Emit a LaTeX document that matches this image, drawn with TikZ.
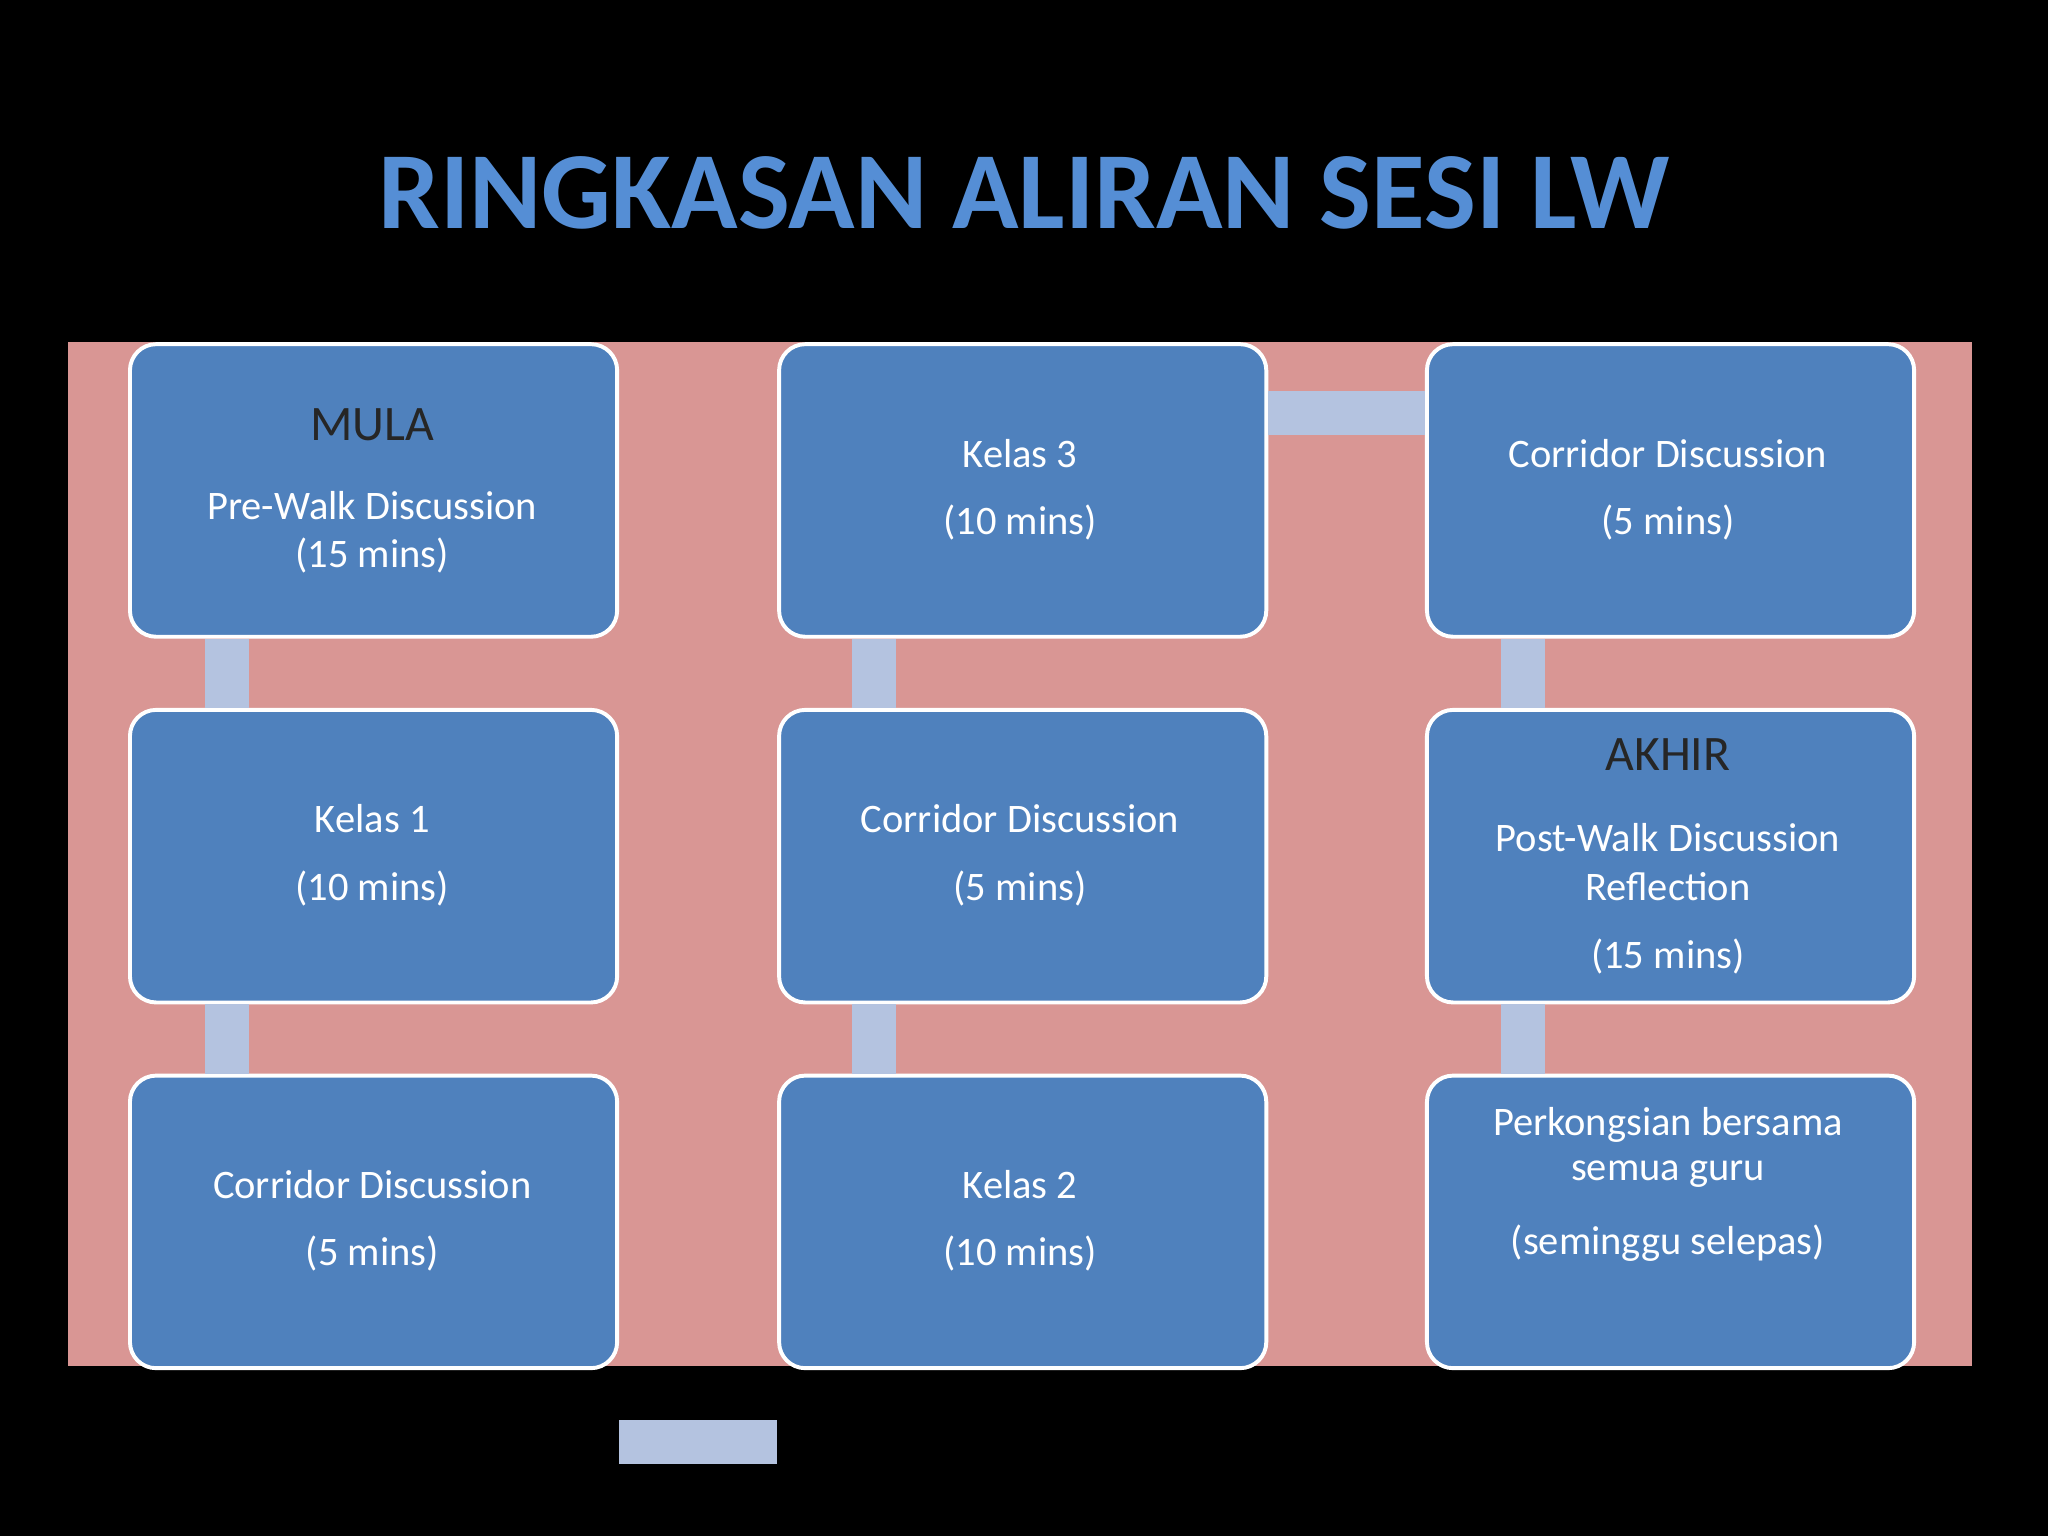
\documentclass[tikz,border=0pt]{standalone}
\usepackage{fontspec}
\setmainfont{Carlito}
\begin{document}
\begin{tikzpicture}[x=1pt,y=-1pt,
  box/.style={draw=white,line width=3pt,fill=boxblue,rounded corners=20pt,minimum width=373pt,minimum height=224pt,anchor=north west,inner sep=0pt},
  txt/.style={text=white,font=\fontsize{31}{36}\selectfont,align=center},
  hd/.style={text=black!85,font=\fontsize{38}{44}\selectfont},
  bar/.style={draw=barblue,line width=34pt}]
\definecolor{boxblue}{HTML}{4F81BD}
\definecolor{barblue}{HTML}{B4C3E0}
\definecolor{pinkbg}{HTML}{D99694}
\definecolor{titleblue}{HTML}{558ED5}
\fill[black] (0,0) rectangle (1568,1176);
\useasboundingbox (0,0) rectangle (1568,1176);
\node[text=titleblue,font=\fontsize{84}{90}\selectfont\bfseries] (title) at (784,148) {RINGKASAN ALIRAN SESI LW};
\fill[pinkbg] (52,262) rectangle (1510,1046);
\node[box] (b11) at (98,262) {};
\node[box] (b21) at (98,542) {};
\node[box] (b31) at (98,822) {};
\node[box] (b12) at (595,262) {};
\node[box] (b22) at (595,542) {};
\node[box] (b32) at (595,822) {};
\node[box] (b13) at (1091,262) {};
\node[box] (b23) at (1091,542) {};
\node[box] (b33) at (1091,822) {};
\draw[bar] ([xshift=76pt]b11.south west) -- ([xshift=76pt]b21.north west);
\draw[bar] ([xshift=76pt]b21.south west) -- ([xshift=76pt]b31.north west);
\draw[bar] ([yshift=-55pt]b31.south east) -- ([yshift=-55pt]b32.south west);
\draw[bar] ([xshift=74pt]b32.north west) -- ([xshift=74pt]b22.south west);
\draw[bar] ([xshift=74pt]b22.north west) -- ([xshift=74pt]b12.south west);
\draw[bar] ([yshift=-54pt]b12.north east) -- ([yshift=-54pt]b13.north west);
\draw[bar] ([xshift=75pt]b13.south west) -- ([xshift=75pt]b23.north west);
\draw[bar] ([xshift=75pt]b23.south west) -- ([xshift=75pt]b33.north west);
\node[hd] (t11a) at (285,325) {MULA};
\node[txt] (t11b) at (285,387) {Pre-Walk Discussion};
\node[txt] (t11c) at (285,425) {(15 mins)};
\node[txt] (t21a) at (285,627) {Kelas 1};
\node[txt] (t21b) at (285,680) {(10 mins)};
\node[txt] (t31a) at (285,907) {Corridor Discussion};
\node[txt] (t31b) at (285,960) {(5 mins)};
\node[txt] (t12a) at (781,347) {Kelas 3};
\node[txt] (t12b) at (781,400) {(10 mins)};
\node[txt] (t22a) at (781,627) {Corridor Discussion};
\node[txt] (t22b) at (781,680) {(5 mins)};
\node[txt] (t32a) at (781,907) {Kelas 2};
\node[txt] (t32b) at (781,960) {(10 mins)};
\node[txt] (t13a) at (1277,347) {Corridor Discussion};
\node[txt] (t13b) at (1277,400) {(5 mins)};
\node[hd] (t23a) at (1277,578) {AKHIR};
\node[txt] (t23b) at (1277,641) {Post-Walk Discussion};
\node[txt] (t23c) at (1277,679) {Reflection};
\node[txt] (t23d) at (1277,732) {(15 mins)};
\node[txt] (t33a) at (1277,861) {Perkongsian bersama};
\node[txt] (t33b) at (1277,899) {semua guru};
\node[txt] (t33c) at (1277,952) {(seminggu selepas)};
\end{tikzpicture}
\end{document}
